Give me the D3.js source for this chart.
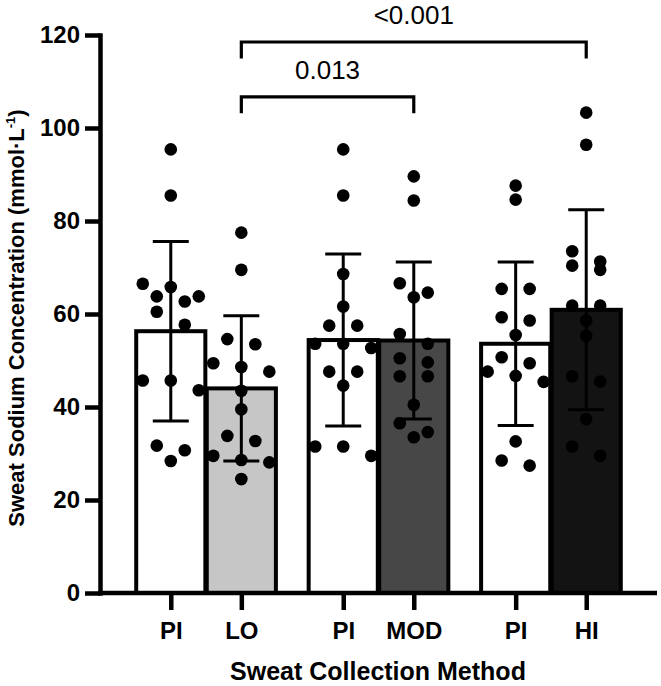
<!DOCTYPE html>
<html>
<head>
<meta charset="utf-8">
<script src="https://cdn.jsdelivr.net/npm/d3@7"></script>
<style>
  body { margin: 0; background: #fff; }
  svg { display: block; }
  text { font-family: "Liberation Sans", Arial, Helvetica, sans-serif; }
</style>
</head>
<body>
<div id="chart"></div>
<script>

// bar order left to right: PI vs LO, PI vs MOD, PI vs HI
const methods = ["PI", "LO", "PI", "MOD", "PI", "HI"];
const pairs = ["LO", "MOD", "HI"];
const means = [56.3, 44.0, 54.4, 54.3, 53.6, 60.9];
const sds = [19.3, 15.6, 18.5, 16.9, 17.6, 21.5];

// individual sweat sodium values (mmol/L)
const piLo  = [95.4, 85.5, 66.5, 65.8, 63.8, 63.8, 62.7, 60.5, 57.7, 45.7, 45.7, 43.6, 31.7, 30.7, 28.4];
const lo    = [77.5, 69.5, 54.6, 53.5, 49.4, 48.6, 47.6, 43.5, 39.5, 33.8, 32.7, 29.5, 28.6, 28.1, 24.5];
const piMod = [95.4, 85.5, 68.6, 61.6, 57.5, 57.5, 53.6, 53.6, 52.7, 47.6, 47.6, 44.6, 31.5, 31.5, 29.5];
const mod   = [89.6, 84.4, 66.6, 64.6, 63.6, 55.7, 53.6, 50.5, 49.6, 46.6, 46.6, 40.5, 36.5, 34.6, 33.5];
const piHi  = [87.6, 84.6, 65.4, 65.4, 59.3, 58.6, 55.5, 50.7, 49.4, 47.6, 46.7, 45.4, 32.6, 28.5, 27.4];
const hi    = [103.3, 96.4, 73.5, 71.3, 70.4, 69.5, 61.8, 61.8, 58.6, 55.3, 46.6, 45.5, 37.4, 31.5, 29.5];
const points = [piLo, lo, piMod, mod, piHi, hi];

const yTicks = [0, 20, 40, 60, 80, 100, 120];

// significance brackets: bar index from / to, p label
const comparisons = [
	{ from: 1, to: 3, p: "0.013" },
	{ from: 1, to: 5, p: "<0.001" }
];

const width = 661;
const height = 686;

const svg = d3.select("#chart").append("svg")
	.attr("width", width)
	.attr("height", height);

const y = d3.scaleLinear().domain([0, 120]).range([593, 35]);

const xGroup = d3.scaleBand()
	.domain(pairs)
	.range([100, 657])
	.paddingInner(0.19)
	.paddingOuter(0.21);

const xInner = d3.scaleBand()
	.domain([0, 1])
	.range([0, xGroup.bandwidth()])
	.paddingInner(0.02);

const fill = d3.scaleOrdinal()
	.domain(["PI", "LO", "MOD", "HI"])
	.range(["#ffffff", "#c6c6c6", "#474747", "#131313"]);

const bars = methods.map(function(m, i) {
	return { i: i, m: m, pair: pairs[Math.floor(i / 2)], side: i % 2, mean: means[i], sd: sds[i], pts: points[i] };
});

const barX = d => xGroup(d.pair) + xInner(d.side);
const barC = d => barX(d) + xInner.bandwidth() / 2;

// simple row-binned dot layout, like the prism scatter (max 3 dots a row)
const dotR = 6.3;
function swarm(vals) {
	const sorted = vals.slice().sort((a, b) => b - a);
	const rows = [];
	sorted.forEach(function(v) {
		const last = rows[rows.length - 1];
		if (last && last.length < 3 && last[0] - v < 2.9) last.push(v);
		else rows.push([v]);
	});
	const out = [];
	rows.forEach(function(r) {
		r.forEach(function(v, k) {
			out.push({ v: v, dx: (k - (r.length - 1) / 2) * 28 });
		});
	});
	return out;
}

// bars
svg.append("g")
	.selectAll("rect")
	.data(bars)
	.join("rect")
		.attr("x", barX)
		.attr("y", d => y(d.mean))
		.attr("width", xInner.bandwidth())
		.attr("height", d => y(0) - y(d.mean))
		.attr("fill", d => fill(d.m))
		.attr("stroke", "#000")
		.attr("stroke-width", 4);

// error bars (mean +/- SD)
const err = svg.append("g")
	.attr("stroke", "#000")
	.attr("stroke-width", 3);

bars.forEach(function(d) {
	const cx = barC(d);
	const top = y(d.mean + d.sd);
	const bot = y(d.mean - d.sd);
	err.append("line").attr("x1", cx).attr("x2", cx).attr("y1", top).attr("y2", bot);
	err.append("line").attr("x1", cx - 18).attr("x2", cx + 18).attr("y1", top).attr("y2", top);
	err.append("line").attr("x1", cx - 18).attr("x2", cx + 18).attr("y1", bot).attr("y2", bot);
});

// dots
bars.forEach(function(d) {
	svg.append("g")
		.selectAll("circle")
		.data(swarm(d.pts))
		.join("circle")
			.attr("cx", p => barC(d) + p.dx)
			.attr("cy", p => y(p.v))
			.attr("r", dotR)
			.attr("fill", "#000");
});

// y axis
const yAxis = svg.append("g")
	.attr("transform", "translate(100,0)")
	.call(d3.axisLeft(y).tickValues(yTicks).tickSize(15).tickSizeOuter(0).tickPadding(5));
yAxis.select(".domain")
	.attr("stroke-width", 4.5)
	.attr("stroke-linecap", "square");
yAxis.selectAll(".tick line").attr("stroke-width", 4.5);
yAxis.selectAll(".tick text")
	.attr("font-size", 24)
	.attr("font-weight", "bold")
	.attr("font-family", null)
	.attr("fill", "#000");

// x axis: ticks at bar centres
const xTick = d3.scaleOrdinal()
	.domain(bars.map(d => d.i))
	.range(bars.map(barC));

const xAxis = svg.append("g")
	.attr("transform", "translate(0," + y(0) + ")")
	.call(d3.axisBottom(xTick).tickSize(17).tickPadding(12).tickFormat(i => methods[i]));
xAxis.select(".domain").remove();
xAxis.selectAll(".tick line").attr("stroke-width", 4.5);
xAxis.selectAll(".tick text")
	.attr("font-size", 24)
	.attr("font-weight", "bold")
	.attr("font-family", null)
	.attr("fill", "#000");

svg.append("line")
	.attr("x1", 98).attr("x2", 657)
	.attr("y1", y(0)).attr("y2", y(0))
	.attr("stroke", "#000")
	.attr("stroke-width", 4.5);

// significance brackets
const bracketLevels = [106.7, 118.5];
const br = svg.append("g");
comparisons.forEach(function(c, k) {
	const x1 = barC(bars[c.from]);
	const x2 = barC(bars[c.to]);
	const yy = y(bracketLevels[k]);
	br.append("path")
		.attr("d", "M" + x1 + "," + (yy + 16.5) + "V" + yy + "H" + x2 + "V" + (yy + 16.5))
		.attr("fill", "none")
		.attr("stroke", "#000")
		.attr("stroke-width", 3.2);
	br.append("text")
		.attr("x", (x1 + x2) / 2)
		.attr("y", yy - 17.5)
		.attr("text-anchor", "middle")
		.attr("font-size", 26)
		.text(c.p);
});

// axis titles
svg.append("text")
	.attr("x", 378)
	.attr("y", 680)
	.attr("text-anchor", "middle")
	.attr("font-size", 25)
	.attr("font-weight", "bold")
	.text("Sweat Collection Method");

const yTitle = svg.append("text")
	.attr("transform", "translate(24,318) rotate(-90)")
	.attr("text-anchor", "middle")
	.attr("font-size", 22)
	.attr("font-weight", "bold");
yTitle.append("tspan").text("Sweat Sodium Concentration (mmol\u00b7L");
yTitle.append("tspan").attr("font-size", 13).attr("dy", -9).text("-1");
yTitle.append("tspan").attr("dy", 9).text(")");

</script>
</body>
</html>
